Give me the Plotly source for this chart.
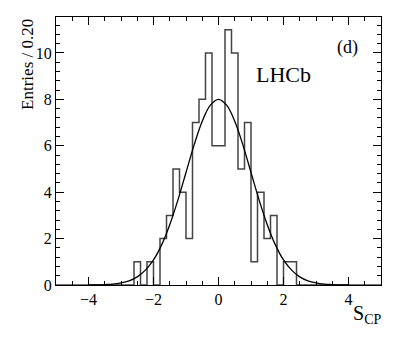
import numpy as np
import plotly.graph_objects as go

# histogram: 50 bins of width 0.20 from -5 to 5
bin_lo = -5.0
bin_width = 0.2
counts = [0, 0, 0, 0, 0, 0, 0, 0, 0, 0,
          0, 0, 1, 0, 1, 0, 2, 3, 5, 4,
          2, 7, 8, 10, 6, 6, 11, 10, 5, 7,
          1, 4, 2, 3, 0, 1, 1, 0, 0, 0,
          0, 0, 0, 0, 0, 0, 0, 0, 0, 0]

# fitted curve
curve_x = [-4.0, -3.75, -3.5, -3.25, -3.0, -2.75, -2.5, -2.25, -2.0, -1.75, -1.5, -1.25, -1.0,
           -0.75, -0.5, -0.25, 0.0, 0.25, 0.5, 0.75, 1.0, 1.25, 1.5, 1.75, 2.0, 2.25, 2.5,
           2.75, 3.0, 3.25, 3.5, 3.75, 4.0]
curve_y = [0.003, 0.007, 0.02, 0.04, 0.09, 0.18, 0.35, 0.64, 1.08, 1.73, 2.60, 3.66, 4.85,
           6.04, 7.06, 7.75, 8.00, 7.75, 7.06, 6.04, 4.85, 3.66, 2.60, 1.73, 1.08, 0.64, 0.35,
           0.18, 0.09, 0.04, 0.02, 0.007, 0.003]

edges = bin_lo + bin_width * np.arange(len(counts) + 1)
step_y = counts + [counts[-1]]

font = "Liberation Serif"

fig = go.Figure()
fig.add_trace(go.Scatter(x=edges, y=step_y, mode="lines", line_shape="hv",
                         line=dict(color="#444444", width=1.5), hoverinfo="skip"))
fig.add_trace(go.Scatter(x=curve_x, y=curve_y, mode="lines", line_shape="spline",
                         line=dict(color="black", width=1.3), hoverinfo="skip"))

axis_common = dict(showgrid=False, zeroline=False, showline=True, linecolor="black",
                   linewidth=1.2, mirror="ticks", ticks="inside", tickcolor="black",
                   ticklen=8, tickwidth=1, tickfont=dict(family=font, size=16, color="black"))

fig.update_xaxes(range=[-5, 5], tick0=-4, dtick=2,
                 minor=dict(dtick=0.5, ticks="inside", ticklen=4, tickcolor="black"),
                 **axis_common)
fig.update_yaxes(range=[0, 11.55], tick0=0, dtick=2,
                 minor=dict(dtick=0.4, ticks="inside", ticklen=4, tickcolor="black"),
                 **axis_common)

fig.add_annotation(text="Entries / 0.20", textangle=-90, xref="paper", yref="paper",
                   x=-0.088, y=1.0, xanchor="center", yanchor="top", showarrow=False,
                   font=dict(family=font, size=17, color="black"))
fig.add_annotation(text="S<sub>CP</sub>", xref="paper", yref="paper",
                   x=1.006, y=-0.055, xanchor="right", yanchor="top", showarrow=False,
                   font=dict(family=font, size=20, color="black"))
fig.add_annotation(text="LHCb", xref="paper", yref="paper",
                   x=0.61, y=0.785, xanchor="left", yanchor="middle", showarrow=False,
                   font=dict(family=font, size=22, color="black"))
fig.add_annotation(text="(d)", xref="paper", yref="paper",
                   x=0.897, y=0.885, xanchor="center", yanchor="middle", showarrow=False,
                   font=dict(family=font, size=18, color="black"))

# page body adds an 8 px offset, so the figure is shrunk to fit the window
fig.update_layout(width=385, height=323, showlegend=False,
                  margin=dict(l=48, r=12, t=9, b=46),
                  paper_bgcolor="white", plot_bgcolor="white")

fig.write_html("out.html")
